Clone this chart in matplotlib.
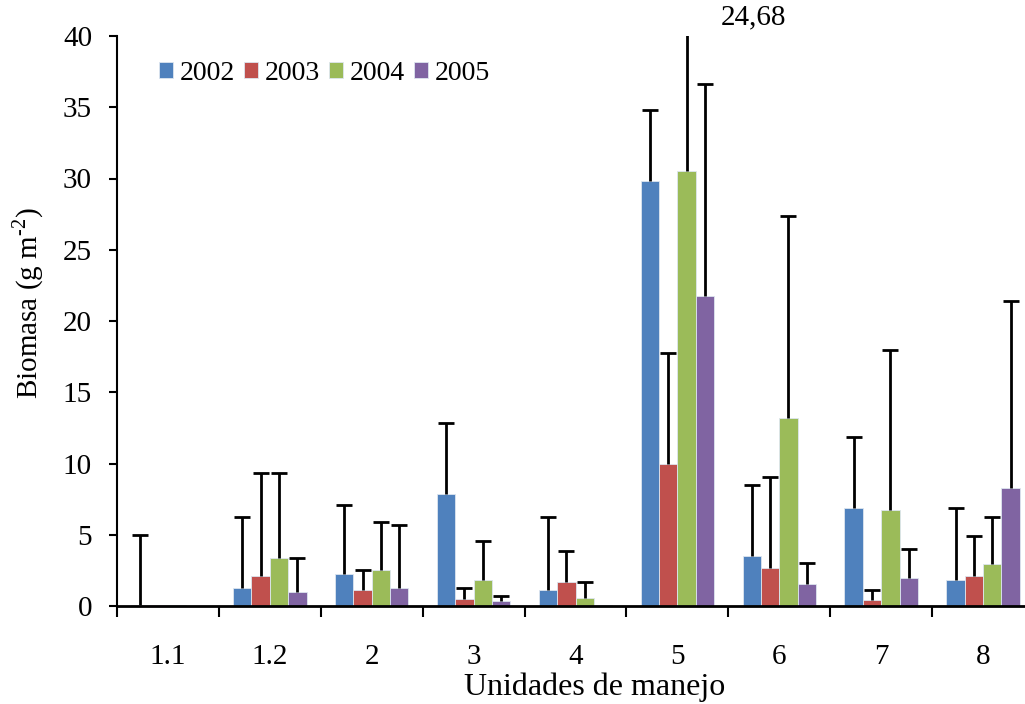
import numpy as np
import matplotlib
matplotlib.use("Agg")
import matplotlib.pyplot as plt

categories = ["1.1", "1.2", "2", "3", "4", "5", "6", "7", "8"]
years = ["2002", "2003", "2004", "2005"]
colors = ["#4F81BD", "#C0504D", "#9BBB59", "#8064A2"]

v2002 = [0.05, 1.26, 2.24, 7.85, 1.15, 29.83, 3.53, 6.90, 1.85]
v2003 = [0.04, 2.13, 1.15, 0.46, 1.71, 9.95, 2.66, 0.45, 2.13]
v2004 = [0.04, 3.39, 2.55, 1.85, 0.59, 30.53, 13.17, 6.73, 2.97]
v2005 = [0.03, 1.00, 1.29, 0.32, 0.05, 21.72, 1.57, 1.99, 8.27]

e2002 = [4.95, 5.00, 4.86, 5.00, 5.07, 5.00, 4.97, 4.97, 5.00]
e2003 = [np.nan, 7.22, 1.35, 0.77, 2.17, 7.81, 6.38, 0.65, 2.75]
e2004 = [np.nan, 5.96, 3.32, 2.74, 1.07, 24.68, 14.23, 11.27, 3.29]
e2005 = [np.nan, 2.34, 4.41, 0.36, np.nan, 14.93, 1.47, 2.03, 13.13]

annot_text = "24,68"

values = [v2002, v2003, v2004, v2005]
errors = [e2002, e2003, e2004, e2005]

plt.rcParams['font.family'] = ['Liberation Serif', 'DejaVu Serif']

fig = plt.figure(figsize=(10.25, 7.04), dpi=100)
ax = fig.add_axes([117/1025, 1-606/704, (1034-117)/1025, (606-36)/704])

x = np.arange(len(categories))
w = 0.18
for i, (vals, errs, col, yr) in enumerate(zip(values, errors, colors, years)):
    pos = x + (i - 1.5) * w
    ax.bar(pos, vals, width=w, color=col, edgecolor='#DDE6F0', linewidth=0.6,
           label=yr, zorder=2)
    errs = np.array(errs, dtype=float)
    m = ~np.isnan(errs)
    eb = ax.errorbar(pos[m], np.array(vals)[m], yerr=[np.zeros(m.sum()), errs[m]],
                     fmt='none', ecolor='black', elinewidth=2, capsize=6,
                     capthick=2, zorder=3)
    # hide the lower caps (only upper error shown)
    eb[1][0].set_visible(False)

ax.set_xlim(-0.5, len(categories) - 0.5)
ax.set_ylim(0, 40)
ax.set_yticks(np.arange(0, 41, 5))
ax.set_xticks(x)
ax.set_xticklabels(categories)
ax.set_xticks(np.arange(-0.5, len(categories), 1.0), minor=True)
ax.tick_params(axis='x', which='major', length=0, pad=27, labelsize=21)
ax.tick_params(axis='x', which='minor', length=8, width=1.5, direction='out')
ax.tick_params(axis='y', length=6, width=1.5, direction='out', labelsize=21, pad=12)

for s in ['top', 'right']:
    ax.spines[s].set_visible(False)
ax.spines['left'].set_linewidth(1.5)
ax.spines['bottom'].set_linewidth(2)

ax.set_ylabel('Biomasa (g m$^{\\mathregular{\u20102}}$)', fontsize=21)
ax.yaxis.set_label_coords(-0.077, 0.532)
ax.set_xlabel('Unidades de manejo', fontsize=23)
ax.xaxis.set_label_coords(0.521, -0.117)

ax.text(5 + 0.75, 41.3, annot_text, ha='center', va='center', fontsize=21,
        clip_on=False)

leg = ax.legend(loc='center left', bbox_to_anchor=(0.046, 0.935), ncol=4,
                frameon=False, fontsize=20, handlelength=0.5, handleheight=0.5,
                handletextpad=0.25, columnspacing=0.32, borderaxespad=0,
                borderpad=0)

fig.savefig('out.png', dpi=100)
